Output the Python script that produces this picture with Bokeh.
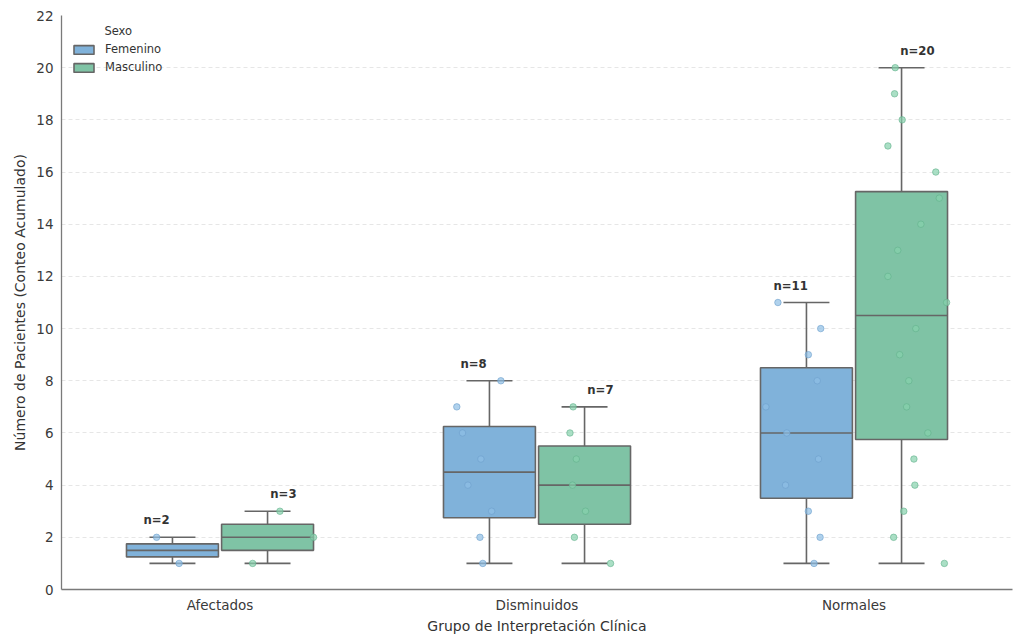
import numpy as np
from bokeh.plotting import figure
from bokeh.models import (ColumnDataSource, Range1d, FixedTicker, Legend,
                          LegendItem, Label)
from bokeh.embed import file_html
from bokeh.resources import INLINE

# --- data -----------------------------------------------------------------
groups = ["Afectados", "Disminuidos", "Normales"]
sexes = ["Femenino", "Masculino"]

# cumulative patient counts per group and sex
afectados_fem = [1, 2]
afectados_mas = [1, 2, 3]
disminuidos_fem = [1, 2, 3, 4, 5, 6, 7, 8]
disminuidos_mas = [1, 2, 3, 4, 5, 6, 7]
normales_fem = [1, 2, 3, 4, 5, 6, 7, 8, 9, 10, 11]
normales_mas = [1, 2, 3, 4, 5, 6, 7, 8, 9, 10, 11, 12, 13, 14, 15, 16, 17,
                18, 19, 20]

# horizontal strip offsets of the individual points (x units)
afectados_fem_jit = [0.021, -0.050]
afectados_mas_jit = [-0.047, 0.145, 0.039]
disminuidos_fem_jit = [-0.021, -0.030, 0.007, -0.068, -0.027, -0.085,
                       -0.103, 0.036]
disminuidos_mas_jit = [0.082, -0.032, 0.003, -0.038, -0.026, -0.046, -0.036]
normales_fem_jit = [0.024, 0.043, 0.006, -0.066, 0.038, -0.062, -0.128,
                    0.034, 0.006, 0.045, -0.090]
normales_mas_jit = [0.135, -0.025, 0.007, 0.042, 0.039, 0.083, 0.016, 0.023,
                    -0.006, 0.045, 0.142, -0.043, -0.012, 0.061, 0.119,
                    0.108, -0.043, 0.002, -0.022, -0.020]

y_ticks = [0, 2, 4, 6, 8, 10, 12, 14, 16, 18, 20, 22]

series = {
    ("Afectados", "Femenino"): (afectados_fem, afectados_fem_jit),
    ("Afectados", "Masculino"): (afectados_mas, afectados_mas_jit),
    ("Disminuidos", "Femenino"): (disminuidos_fem, disminuidos_fem_jit),
    ("Disminuidos", "Masculino"): (disminuidos_mas, disminuidos_mas_jit),
    ("Normales", "Femenino"): (normales_fem, normales_fem_jit),
    ("Normales", "Masculino"): (normales_mas, normales_mas_jit),
}

# --- styling ----------------------------------------------------------------
FONT = "DejaVu Sans"
box_fill = {"Femenino": "#80b2da", "Masculino": "#7fc3a5"}
pt_fill = {"Femenino": "#8fbfe6", "Masculino": "#86d1ad"}
pt_line = {"Femenino": "#6c9fcb", "Masculino": "#63b08c"}
EDGE = "#666666"
hue_offset = {"Femenino": -0.15, "Masculino": 0.15}
label_offset = {"Femenino": -0.2, "Masculino": 0.2}
BOX_W = 0.29
CAP_W = BOX_W / 2

p = figure(width=1018, height=643, output_backend="svg", toolbar_location=None,
           x_range=Range1d(-0.5, 2.5), y_range=Range1d(0, 22),
           min_border_left=61, min_border_right=6, min_border_top=15,
           min_border_bottom=54, background_fill_color="white",
           border_fill_color="white")
p.outline_line_color = None
p.xgrid.visible = False
p.ygrid.grid_line_color = "#e6e6e6"
p.ygrid.grid_line_dash = "4 3"
p.ygrid.grid_line_width = 1
p.ygrid.ticker = FixedTicker(ticks=y_ticks)

p.yaxis.ticker = FixedTicker(ticks=y_ticks)
p.xaxis.ticker = FixedTicker(ticks=[0, 1, 2])
p.xaxis.major_label_overrides = {i: g for i, g in enumerate(groups)}
for ax in (p.xaxis[0], p.yaxis[0]):
    ax.major_tick_line_color = None
    ax.minor_tick_line_color = None
    ax.major_tick_out = 0
    ax.major_tick_in = 0
    ax.minor_tick_out = 0
    ax.axis_line_color = "#7a7a7a"
    ax.axis_line_width = 1.3
    ax.major_label_text_font = FONT
    ax.major_label_text_font_size = "13.5px"
    ax.major_label_text_color = "#3a3a3a"
    ax.axis_label_text_font = FONT
    ax.axis_label_text_font_size = "14px"
    ax.axis_label_text_font_style = "normal"
    ax.axis_label_text_color = "#333333"
p.xaxis.major_label_standoff = 7
p.yaxis.major_label_standoff = 8
p.xaxis.axis_label = "Grupo de Interpretación Clínica"
p.yaxis.axis_label = "Número de Pacientes (Conteo Acumulado)"
p.xaxis.axis_label_standoff = 2
p.yaxis.axis_label_standoff = 5

legend_items = []
for sex in sexes:
    box = dict(left=[], right=[], q1=[], q3=[], med=[], x=[])
    whisk = dict(x0=[], y0=[], x1=[], y1=[])
    pts = dict(x=[], y=[])
    lab = dict(x=[], y=[], text=[])
    for gi, grp in enumerate(groups):
        vals, jit = series[(grp, sex)]
        v = np.array(vals, dtype=float)
        q1, med, q3 = np.percentile(v, [25, 50, 75])
        iqr = q3 - q1
        lo = v[v >= q1 - 1.5 * iqr].min()
        hi = v[v <= q3 + 1.5 * iqr].max()
        cx = gi + hue_offset[sex]
        box["left"].append(cx - BOX_W / 2)
        box["right"].append(cx + BOX_W / 2)
        box["q1"].append(q1)
        box["q3"].append(q3)
        box["med"].append(med)
        box["x"].append(cx)
        # whisker stems and caps
        for a, b in ((q3, hi), (q1, lo)):
            whisk["x0"].append(cx); whisk["y0"].append(a)
            whisk["x1"].append(cx); whisk["y1"].append(b)
        for yv in (hi, lo):
            whisk["x0"].append(cx - CAP_W / 2); whisk["y0"].append(yv)
            whisk["x1"].append(cx + CAP_W / 2); whisk["y1"].append(yv)
        for yv, dx in zip(vals, jit):
            pts["x"].append(cx + dx)
            pts["y"].append(yv)
        lab["x"].append(gi + label_offset[sex])
        lab["y"].append(hi + 0.65)
        lab["text"].append(f"n={len(vals)}")

    wsrc = ColumnDataSource(whisk)
    p.segment("x0", "y0", "x1", "y1", source=wsrc, line_color=EDGE,
              line_width=1.6)
    bsrc = ColumnDataSource(box)
    r = p.quad(left="left", right="right", bottom="q1", top="q3", source=bsrc,
               fill_color=box_fill[sex], line_color=EDGE, line_width=1.6)
    p.segment(x0="left", y0="med", x1="right", y1="med", source=bsrc,
              line_color=EDGE, line_width=1.6)
    p.scatter("x", "y", source=ColumnDataSource(pts), size=6.5,
              fill_color=pt_fill[sex], fill_alpha=0.7, line_color=pt_line[sex],
              line_alpha=0.6, line_width=1)
    p.text("x", "y", text="text", source=ColumnDataSource(lab),
           text_font={"value": FONT}, text_font_size="11.7px",
           text_font_style="bold", text_color="#333333", text_align="center",
           text_baseline="middle")
    legend_items.append(LegendItem(label=sex, renderers=[r]))

legend = Legend(items=legend_items, location=(10, 515), margin=0, padding=0,
                spacing=4, glyph_width=25, glyph_height=11, label_height=14,
                label_standoff=9, label_text_font=FONT,
                label_text_font_size="11.5px", label_text_color="#333333",
                background_fill_alpha=0, border_line_color=None)
p.add_layout(legend, "center")

p.add_layout(Label(x=-0.321, y=21.39, text="Sexo", text_font=FONT,
                   text_font_size="11.5px", text_color="#333333",
                   text_align="center", text_baseline="middle"))

open("out.html", "w").write(file_html(p, INLINE))
